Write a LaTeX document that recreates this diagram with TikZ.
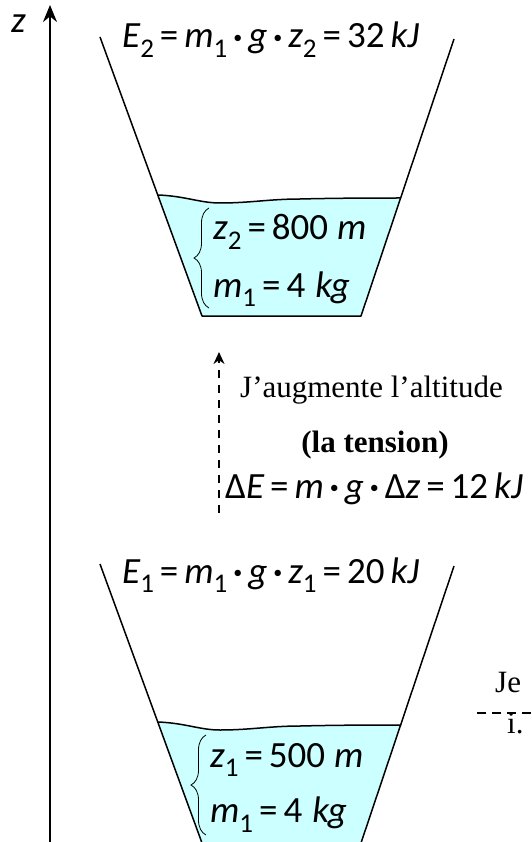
\documentclass[tikz,border=0pt]{standalone}
\usepackage{fontspec}
\setmainfont{Liberation Serif}
\newfontfamily\calfont{Carlito}
\usetikzlibrary{arrows.meta,decorations.pathreplacing}
\definecolor{water}{RGB}{204,255,255}
\newcommand\sbs[1]{\raisebox{-0.27em}{\upshape\fontsize{27}{27}\selectfont #1}}
\newcommand\gp{\hspace{6pt}}
\newcommand\Eq{\gp{\upshape =}\gp}
\newcommand\Dt{\gp\raisebox{4.5pt}{\upshape\fontsize{18}{18}\selectfont •}\gp}
\newcommand\mathtxt{\calfont\itshape\fontsize{37}{40}\selectfont}
\newcommand\drawbasin{%
  \fill[water] (158,195) .. controls (185,196) and (200,203) .. (220,203)
     .. controls (250,203) and (270,199) .. (300,199)
     .. controls (340,198) and (380,198) .. (401,198) -- (361,316) -- (202,316) -- cycle;
  \draw[surf] (158,195) .. controls (185,196) and (200,203) .. (220,203)
     .. controls (250,203) and (270,199) .. (300,199)
     .. controls (340,198) and (380,198) .. (401,198);
  \draw[wall] (100,37) -- (202,316) -- (361,316) -- (454,39);
}
\begin{document}
\begin{tikzpicture}[x=1pt,y=-1pt,
  wall/.style={line width=1.5pt, line join=round},
  surf/.style={line width=1.5pt},
  eq/.style={anchor=base west, inner sep=0pt, font=\mathtxt},
  prose/.style={anchor=base west, inner sep=0pt, font=\fontsize{31}{36}\selectfont},
  bracestyle/.style={line width=0.8pt, decorate, decoration={brace, amplitude=15pt}},
  axisline/.style={line width=1.8pt, -{Stealth[length=17pt,width=14pt]}},
  dasharrow/.style={line width=1.8pt, dash pattern=on 8pt off 7pt, -{Stealth[length=12pt,width=11pt]}},
  hdash/.style={line width=1.6pt, dash pattern=on 9pt off 6pt}]
\clip (0,0) rectangle (531,842);
% basins
\drawbasin
\begin{scope}[yshift=-527pt]\drawbasin\end{scope}
% axis
\coordinate (zb) at (50,860);
\coordinate (zt) at (50,5);
\draw[axisline] (zb) -- (zt);
\node[eq] (zl) at (11,33) {z};
% top basin texts
\node[eq] (e2) at (122,48) {E\sbs{2}\Eq m\sbs{1}\Dt g\Dt z\sbs{2}\Eq{\upshape 32}\gp kJ};
\node[eq] (z2) at (213,240) {z\sbs{2}\Eq{\upshape 800}\hspace{9pt}m};
\node[eq] (m1a) at (213,297) {m\sbs{1}\Eq{\upshape 4}\hspace{10pt}kg};
\coordinate (b2a) at (209,308);
\coordinate (b2b) at (209,208);
\draw[bracestyle] (b2a) -- (b2b);
% middle
\coordinate (da) at (219,513);
\coordinate (db) at (219,352);
\draw[dasharrow] (da) -- (db);
\node[prose] (aug) at (240,397) {J’augmente l’altitude};
\node[prose, anchor=base, font=\fontsize{31}{36}\selectfont\bfseries] (ten) at (375,452) {(la tension)};
\node[eq] (de) at (225,498) {{\upshape Δ}E\Eq m\Dt g\Dt{\upshape Δ}z\Eq{\upshape 12}\gp kJ};
% bottom basin texts
\node[eq] (e1) at (122,583) {E\sbs{1}\Eq m\sbs{1}\Dt g\Dt z\sbs{1}\Eq{\upshape 20}\gp kJ};
\node[eq] (z1) at (210,767) {z\sbs{1}\Eq{\upshape 500}\hspace{9pt}m};
\node[eq] (m1b) at (210,822) {m\sbs{1}\Eq{\upshape 4}\hspace{10pt}kg};
\coordinate (b1a) at (206,835);
\coordinate (b1b) at (206,735);
\draw[bracestyle] (b1a) -- (b1b);
% right edge (cut off)
\node[prose] (je) at (495,692) {Je};
\coordinate (hl) at (477,713);
\coordinate (hr) at (540,713);
\draw[hdash] (hl) -- (hr);
\node[prose] (ie) at (507,733) {i.};
\end{tikzpicture}
\end{document}
